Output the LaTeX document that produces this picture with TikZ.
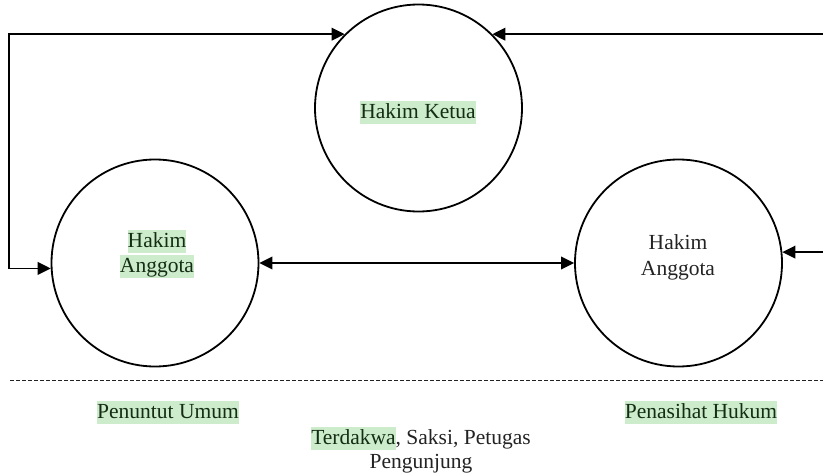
\documentclass[tikz,border=0pt]{standalone}
\usepackage{fontspec}
\setmainfont{Liberation Serif}
\usetikzlibrary{arrows.meta}
\definecolor{hl}{RGB}{204,236,204}
\definecolor{hltext}{RGB}{20,45,20}
\definecolor{txt}{RGB}{35,35,35}
\newcommand\hlt[1]{{\setlength{\fboxsep}{0pt}\colorbox{hl}{\rule[-6pt]{0pt}{23.5pt}\color{hltext}#1}}}
\begin{document}
\begin{tikzpicture}[x=1pt,y=-1pt,
  judge/.style={circle,draw,line width=1.8pt,minimum size=207pt,inner sep=0pt},
  lbl/.style={inner sep=0pt,font=\fontsize{21.5}{26}\selectfont,text=txt,align=center},
  conn/.style={line width=1.9pt,-{Triangle[length=13pt,width=12.5pt]}},
  conn2/.style={line width=1.9pt,{Triangle[length=13pt,width=12.5pt]}-{Triangle[length=13pt,width=12.5pt]}}]
\useasboundingbox (0,0) rectangle (823,474);
% circles
\node[judge] (hk) at (418.5,108) {};
\node[judge] (ha1) at (155,263) {};
\node[judge] (ha2) at (678.5,263) {};
% labels
\node[lbl] (thk) at (418,112.5) {\hlt{Hakim Ketua}};
\node[lbl] (tha1a) at (157,241.5) {\hlt{Hakim}};
\node[lbl] (tha1b) at (157,266.5) {\hlt{Anggota}};
\node[lbl] (tha2) at (678,257) {Hakim\\Anggota};
% frame coordinates
\coordinate (lft) at (9,0);
\coordinate (rgt) at (823,0);
% connectors
\draw[conn2] (hk.135) -- (hk.135 -| lft) |- (ha1.183);
\draw[conn] (hk.45 -| rgt) -- (hk.45);
\draw[conn] (ha2.6 -| rgt) -- (ha2.6);
\draw[conn2] (ha1.east) -- (ha2.west);
% dashed separator
\coordinate (d1) at (10,380);
\coordinate (d2) at (823,380);
\draw[line width=1pt,dash pattern=on 3.5pt off 2.5pt,color=txt] (d1) -- (d2);
% bottom labels
\node[lbl] (pu) at (168,412.5) {\hlt{Penuntut Umum}};
\node[lbl] (ph) at (701,412.5) {\hlt{Penasihat Hukum}};
\node[lbl] (td) at (421,438.5) {\hlt{Terdakwa}, Saksi, Petugas};
\node[lbl] (pg) at (421,464) {Pengunjung};
\end{tikzpicture}
\end{document}
